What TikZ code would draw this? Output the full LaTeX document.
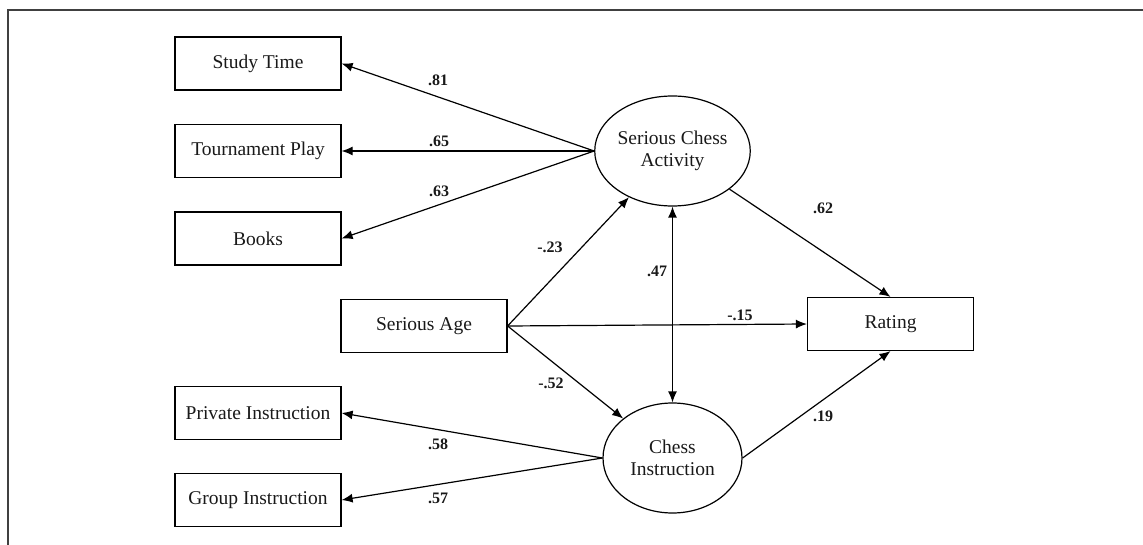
\documentclass[tikz,border=0pt]{standalone}
\usepackage{fontspec}
\setmainfont{Liberation Serif}
\usetikzlibrary{arrows.meta,shapes.geometric}
\begin{document}
\begin{tikzpicture}[x=1pt,y=-1pt,
  var/.style={draw=black,line width=1.2pt,minimum width=166pt,minimum height=53pt,inner sep=0pt,
    font=\fontsize{19.5}{22}\selectfont,text=black!90},
  lat/.style={draw=black,line width=1.2pt,ellipse,minimum width=139pt,minimum height=110pt,inner sep=0pt,
    align=center,font=\fontsize{19.5}{22}\selectfont,text=black!90},
  path/.style={line width=1.2pt,-{Latex[length=11pt,width=9pt]}},
  both/.style={line width=1.2pt,{Latex[length=11pt,width=9pt]}-{Latex[length=11pt,width=9pt]}},
  coef/.style={font=\bfseries\fontsize{16}{18}\selectfont,text=black!90,inner sep=0pt}]
\useasboundingbox (0,0) rectangle (1143,545);
\draw[line width=1.2pt,black!75] (8,545) -- (8,10) -- (1143,10);
\node[var] (study) at (258,63.5) {Study Time};
\node[var] (tour) at (258,151) {Tournament Play};
\node[var] (books) at (258,238.5) {Books};
\node[var] (age) at (424,326) {Serious Age};
\node[var] (priv) at (258,413) {Private Instruction};
\node[var] (group) at (258,500) {Group Instruction};
\node[var] (rating) at (890.5,324) {Rating};
\node[lat] (sca) at (672.5,151) {Serious Chess\\Activity};
\node[lat] (ci) at (672.5,458) {Chess\\Instruction};
\draw[path] (sca.west) -- (study.east);
\draw[path] (sca.west) -- (tour.east);
\draw[path] (sca.west) -- (books.east);
\draw[path] (ci.west) -- (priv.east);
\draw[path] (ci.west) -- (group.east);
\draw[path] (age.east) -- (sca);
\draw[path] (age.east) -- (ci);
\draw[path] (age.east) -- (rating.west);
\draw[path] (sca) -- (rating.north);
\draw[path] (ci.east) -- (rating.south);
\draw[both] (sca.south) -- (ci.north);
\node[coef] (l81) at (438,80) {.81};
\node[coef] (l65) at (439,141) {.65};
\node[coef] (l63) at (439,191) {.63};
\node[coef] (l58) at (438,444) {.58};
\node[coef] (l57) at (438,498) {.57};
\node[coef] (l23) at (550,247) {-.23};
\node[coef] (l47) at (657,271) {.47};
\node[coef] (l15) at (740,315) {-.15};
\node[coef] (l52) at (551,383) {-.52};
\node[coef] (l62) at (823,208) {.62};
\node[coef] (l19) at (823,416) {.19};
\end{tikzpicture}
\end{document}
